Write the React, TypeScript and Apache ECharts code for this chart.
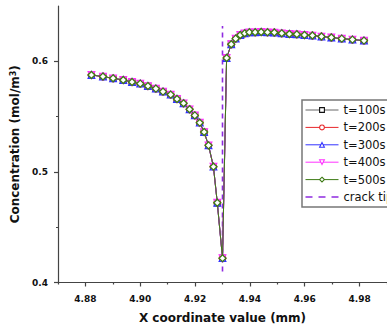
import React, { useEffect, useRef } from "react";
import * as echarts from "echarts";

// x positions of mesh nodes (mm)
const xValues: number[] = [
  4.8822, 4.8864, 4.8901, 4.8938, 4.897, 4.9, 4.9028, 4.9057, 4.9083, 4.9111,
  4.9134, 4.9158, 4.918, 4.9199, 4.9217, 4.9233, 4.9249, 4.9267, 4.9281, 4.93,
  4.9315, 4.9332, 4.9348, 4.9365, 4.9381, 4.9398, 4.9419, 4.9441, 4.9464, 4.9489,
  4.9516, 4.9544, 4.9571, 4.9599, 4.9628, 4.9661, 4.9697, 4.9735, 4.9774, 4.9816,
];

// concentration (mol/m^3) — curves of all times overlap
const conc100: number[] = [
  0.5876, 0.5862, 0.5846, 0.5831, 0.5813, 0.5798, 0.5776, 0.5753, 0.5726, 0.5699,
  0.5659, 0.562, 0.5566, 0.5511, 0.5445, 0.536, 0.524, 0.5047, 0.4721, 0.422,
  0.603, 0.6154, 0.6205, 0.6238, 0.6253, 0.6262, 0.6262, 0.6265, 0.6262, 0.626,
  0.6253, 0.6247, 0.6244, 0.6238, 0.6233, 0.6224, 0.6215, 0.6205, 0.6196, 0.6187,
];
const conc200: number[] = conc100.slice();
const conc300: number[] = conc100.slice();
const conc400: number[] = conc100.slice();
const conc500: number[] = conc100.slice();

const seriesNames: string[] = ["t=100s", "t=200s", "t=300s", "t=400s", "t=500s"];
const crackTipName = "crack tip";
const crackTipX = 4.93;
const crackTipY: number[] = [0.41, 0.632];

const xTickLabels: number[] = [4.88, 4.9, 4.92, 4.94, 4.96, 4.98];
const xMinorTicks: number[] = [4.87, 4.89, 4.91, 4.93, 4.95, 4.97, 4.99];
const yTickLabels: number[] = [0.4, 0.5, 0.6];
const yMinorTicks: number[] = [0.45, 0.55];

const FONT = "DejaVu Sans";
const CRACK_COLOR = "#8f2be0";

export default function App() {
  const ref = useRef<HTMLDivElement>(null);
  useEffect(() => {
    if (!ref.current) return;
    const chart = echarts.init(ref.current, undefined, { renderer: "svg" });
    const concs = [conc100, conc200, conc300, conc400, conc500];
    const lineColors = ["#666666", "#e8262a", "#3333ff", "#ff33ff", "#3d7a14"];
    const markColors = ["#111111", "#e8262a", "#3333ff", "#ff33ff", "#3d7a14"];
    const symbols = ["rect", "circle", "triangle", "triangle", "diamond"];
    const rotates = [0, 0, 0, 180, 0];
    const sizes = [5.5, 6.5, 6.5, 6.5, 7];

    const series: any[] = concs.map((c, i) => ({
      name: seriesNames[i],
      type: "line",
      xAxisIndex: 0,
      yAxisIndex: 0,
      data: xValues.map((x, j) => [x, c[j]]),
      symbol: symbols[i],
      symbolRotate: rotates[i],
      symbolSize: sizes[i],
      showAllSymbol: true,
      lineStyle: { color: lineColors[i], width: 1 },
      itemStyle: { color: "#ffffff", borderColor: markColors[i], borderWidth: 1.3 },
      z: 2 + i,
    }));
    series.push({
      name: crackTipName,
      type: "line",
      xAxisIndex: 0,
      yAxisIndex: 0,
      data: crackTipY.map((y) => [crackTipX, y]),
      symbol: "none",
      lineStyle: { color: CRACK_COLOR, width: 1.6, type: [5, 4] },
      itemStyle: { color: CRACK_COLOR },
      z: 1,
    });

    const dashIcon =
      "path://M0,0L0,0Z M33,6L33,6Z M0,2.2h7v1.6h-7Z M13,2.2h7v1.6h-7Z M26,2.2h7v1.6h-7Z";

    const legendItems: any[] = seriesNames.map((n, i) => ({
      name: n,
      itemStyle: { color: "#ffffff", borderColor: markColors[i], borderWidth: 1.1 },
      lineStyle: { color: lineColors[i], width: 1 },
    }));
    legendItems.push({
      name: crackTipName,
      icon: dashIcon,
      itemStyle: { color: CRACK_COLOR, borderWidth: 0 },
    });

    const axisLineStyle = { color: "#444444", width: 1.2 };
    chart.setOption({
      animation: false,
      grid: { left: 58, top: 6, right: -10.6, bottom: 48.5, containLabel: false },
      legend: {
        orient: "vertical",
        left: 302,
        top: 100,
        padding: [3, 4, 3, 3],
        itemWidth: 33,
        itemHeight: 6,
        itemGap: 3.4,
        borderColor: "#777777",
        borderWidth: 1.5,
        backgroundColor: "#ffffff",
        textStyle: { fontFamily: FONT, fontSize: 11.5, color: "#111111", lineHeight: 14 },
        data: legendItems,
      },
      xAxis: [
        {
          type: "value",
          min: 4.87,
          max: 4.99,
          name: "X coordinate value (mm)",
          nameLocation: "middle",
          nameGap: 29,
          nameTextStyle: { fontFamily: FONT, fontSize: 12, fontWeight: "bold", color: "#111111" },
          axisLine: { onZero: false, lineStyle: axisLineStyle },
          axisTick: { show: true, length: 4, customValues: xTickLabels, lineStyle: axisLineStyle },
          axisLabel: {
            customValues: xTickLabels,
            margin: 12,
            fontFamily: FONT,
            fontSize: 9,
            fontWeight: "bold",
            color: "#111111",
            formatter: (v: number) => v.toFixed(2),
          },
          splitLine: { show: false },
        },
        {
          type: "value",
          min: 4.87,
          max: 4.99,
          position: "bottom",
          axisLine: { show: false },
          axisTick: { show: true, length: 2, customValues: xMinorTicks, lineStyle: axisLineStyle },
          axisLabel: { show: false },
          splitLine: { show: false },
        },
      ],
      yAxis: [
        {
          type: "value",
          min: 0.4,
          max: 0.65,
          name: "Concentration (mol/m{sup|3})",
          nameLocation: "middle",
          nameGap: 28,
          nameRotate: 90,
          nameTextStyle: {
            fontFamily: FONT,
            fontSize: 12,
            fontWeight: "bold",
            color: "#111111",
            rich: {
              sup: { fontFamily: FONT, fontSize: 8, fontWeight: "bold", color: "#111111", verticalAlign: "top", lineHeight: 10 },
            },
          },
          axisLine: { onZero: false, lineStyle: axisLineStyle },
          axisTick: { show: true, length: 4, customValues: yTickLabels, lineStyle: axisLineStyle },
          axisLabel: {
            customValues: yTickLabels,
            margin: 10,
            fontFamily: FONT,
            fontSize: 9,
            fontWeight: "bold",
            color: "#111111",
            formatter: (v: number) => v.toFixed(1),
          },
          splitLine: { show: false },
        },
        {
          type: "value",
          min: 0.4,
          max: 0.65,
          position: "left",
          axisLine: { show: false },
          axisTick: { show: true, length: 2, customValues: yMinorTicks, lineStyle: axisLineStyle },
          axisLabel: { show: false },
          splitLine: { show: false },
        },
      ],
      series,
    });
    return () => chart.dispose();
  }, []);
  return (
    <div
      ref={ref}
      style={{ position: "fixed", left: 0, top: 0, width: 387, height: 331, background: "#ffffff" }}
    />
  );
}
